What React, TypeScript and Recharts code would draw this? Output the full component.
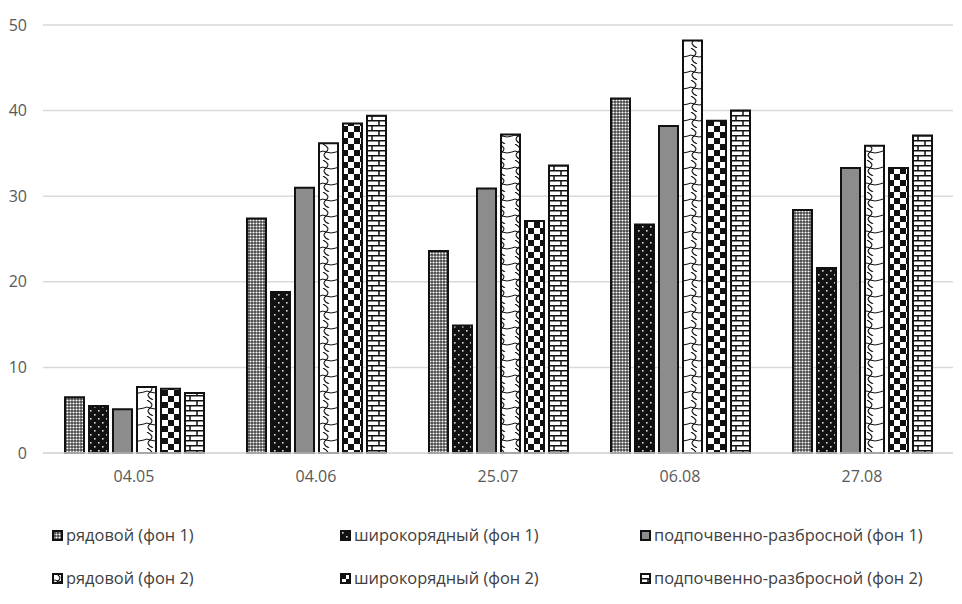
import React from 'react';
import { BarChart, Bar, XAxis, YAxis, CartesianGrid } from 'recharts';

const categories = ['04.05', '04.06', '25.07', '06.08', '27.08'];
const seriesNames = [
  'рядовой (фон 1)',
  'широкорядный (фон 1)',
  'подпочвенно-разбросной (фон 1)',
  'рядовой (фон 2)',
  'широкорядный (фон 2)',
  'подпочвенно-разбросной (фон 2)',
];
const rowOne = [6.5, 27.4, 23.6, 41.4, 28.4];
const wideOne = [5.5, 18.8, 14.9, 26.7, 21.6];
const subOne = [5.1, 31.0, 30.9, 38.2, 33.3];
const rowTwo = [7.7, 36.2, 37.2, 48.2, 35.9];
const wideTwo = [7.5, 38.5, 27.1, 38.8, 33.3];
const subTwo = [7.0, 39.4, 33.6, 40.0, 37.1];
const yTicks = [0, 10, 20, 30, 40, 50];

const seriesValues = [rowOne, wideOne, subOne, rowTwo, wideTwo, subTwo];
const keys = ['s1', 's2', 's3', 's4', 's5', 's6'];
const fills = ['url(#p1)', 'url(#p2)', '#8c8c8c', 'url(#p4)', 'url(#p5)', 'url(#p6)'];

const data = categories.map((c, i) => {
  const row: any = { name: c };
  keys.forEach((k, j) => {
    row[k] = seriesValues[j][i];
  });
  return row;
});

const FONT = '"Open Sans", sans-serif';

const Patterns = () => (
  <defs>
    <pattern id="p1" width="3" height="3" patternUnits="userSpaceOnUse">
      <rect width="3" height="3" fill="#444" />
      <circle cx="1.5" cy="1.5" r="1.05" fill="#fff" />
    </pattern>
    <pattern id="p2" width="8" height="8" patternUnits="userSpaceOnUse">
      <rect width="8" height="8" fill="#111" />
      <rect x="2" y="2" width="1.6" height="1.6" fill="#ddd" />
      <rect x="6" y="6" width="1.6" height="1.6" fill="#ddd" />
    </pattern>
    <pattern id="p4" width="16" height="16" patternUnits="userSpaceOnUse">
      <rect width="16" height="16" fill="#fff" />
      <path d="M3 0 Q11 4 6 8 Q1 12 9 16" stroke="#111" strokeWidth="1.1" fill="none" />
      <path d="M6 8 Q11 10 16 8" stroke="#111" strokeWidth="1" fill="none" />
      <path d="M0 8 Q3 6 6 8" stroke="#111" strokeWidth="1" fill="none" />
    </pattern>
    <pattern id="p5" width="12" height="12" patternUnits="userSpaceOnUse">
      <rect width="12" height="12" fill="#fff" />
      <rect x="0" y="0" width="6" height="6" fill="#111" />
      <rect x="6" y="6" width="6" height="6" fill="#111" />
    </pattern>
    <pattern id="p6" width="14" height="10" patternUnits="userSpaceOnUse">
      <rect width="14" height="10" fill="#fff" />
      <path d="M0 0.75 H14 M0 5.75 H14 M1 0 V5 M8 5 V10" stroke="#111" strokeWidth="1.5" fill="none" />
    </pattern>
  </defs>
);

const LegendBlock = () => {
  const colX = [52, 340, 640];
  const rowY = [525, 568];
  return (
    <div style={{ position: 'absolute', left: 0, top: 0, width: 962, height: 604, pointerEvents: 'none' }}>
      {seriesNames.map((n, i) => {
        const col = i % 3;
        const row = Math.floor(i / 3);
        return (
          <div
            key={n}
            style={{
              position: 'absolute',
              left: colX[col],
              top: rowY[row],
              display: 'flex',
              alignItems: 'center',
              whiteSpace: 'nowrap',
              fontFamily: FONT,
              fontSize: 16.4,
              color: '#404040',
              lineHeight: '20px',
            }}
          >
            <svg width={11} height={11} style={{ marginRight: 3 }}>
              <rect x={1} y={1} width={9} height={9} fill={fills[i]} stroke="#111" strokeWidth={2} />
            </svg>
            <span>{n}</span>
          </div>
        );
      })}
    </div>
  );
};

export default function App() {
  return (
    <div style={{ position: 'absolute', left: 0, top: 0, width: 962, height: 604, background: '#fff' }}>
      <BarChart
        width={962}
        height={604}
        data={data}
        margin={{ top: 25, right: 9, left: 0, bottom: 111 }}
        barCategoryGap={20}
        barGap={5}
      >
        <Patterns />
        <CartesianGrid vertical={false} stroke="#d9d9d9" strokeWidth={1.5} />
        <XAxis
          dataKey="name"
          height={40}
          axisLine={{ stroke: '#d9d9d9', strokeWidth: 1.5 }}
          tickLine={false}
          tickMargin={12}
          tick={{ fill: '#595959', fontSize: 16, fontFamily: FONT }}
        />
        <YAxis
          width={43}
          domain={[0, 50]}
          ticks={yTicks}
          axisLine={false}
          tickLine={false}
          tickMargin={10}
          tick={{ fill: '#595959', fontSize: 16, fontFamily: FONT }}
        />
        {keys.map((k, i) => (
          <Bar
            key={k}
            dataKey={k}
            name={seriesNames[i]}
            fill={fills[i]}
            stroke="#111"
            strokeWidth={2}
            barSize={19}
            isAnimationActive={false}
          />
        ))}
      </BarChart>
      <LegendBlock />
    </div>
  );
}
